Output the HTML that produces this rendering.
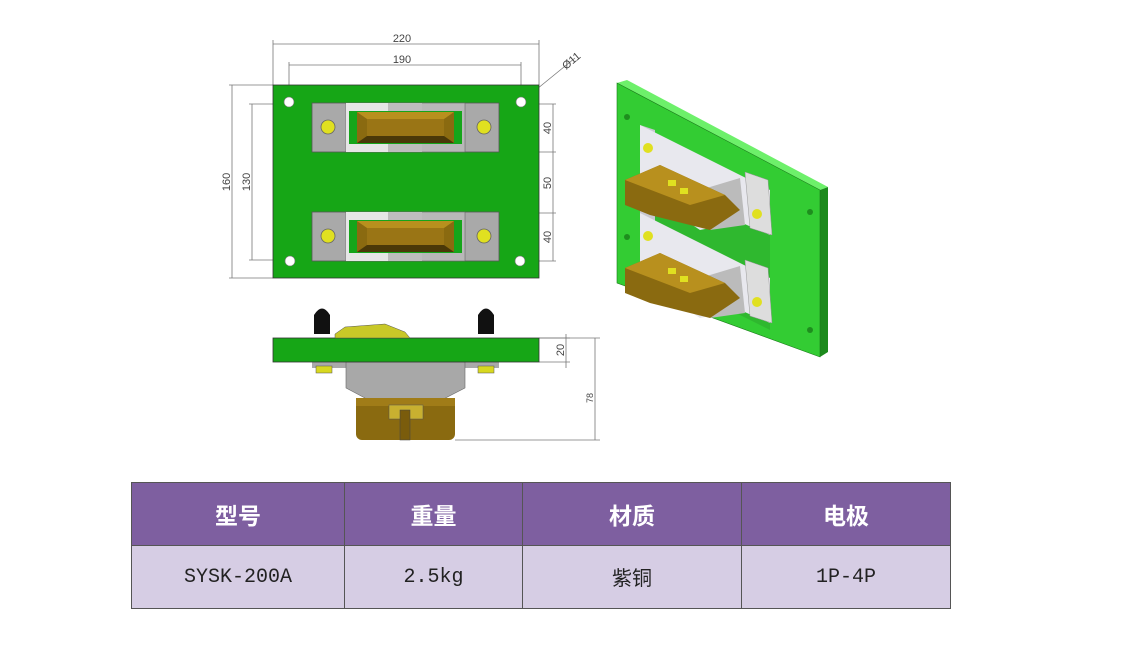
<!DOCTYPE html>
<html><head><meta charset="utf-8"><style>
html,body{margin:0;padding:0;background:#fff;}
body{width:1123px;height:647px;position:relative;overflow:hidden;font-family:"Liberation Sans","Noto Sans CJK SC",sans-serif;}
svg{position:absolute;left:0;top:0;}
table{position:absolute;left:131px;top:482px;border-collapse:collapse;width:820px;}
td{border:1px solid #555;text-align:center;height:62px;padding:0;}
tr.h td{background:#7e5fa0;color:#fff;font-weight:bold;font-size:23px;}
tr.r td{background:#d6cde4;color:#222;font-size:20px;font-family:"Liberation Mono","Noto Sans CJK SC",monospace;}
</style></head><body>
<svg width="1123" height="647" viewBox="0 0 1123 647" font-family="Liberation Sans, sans-serif">
<defs>
<g id="mod">
  <rect x="0" y="0" width="187" height="49" fill="#a9a9a9" stroke="#555" stroke-width="0.8"/>
  <rect x="34" y="0" width="119" height="49" fill="#b8b8b8" stroke="#666" stroke-width="0.6"/>
  <rect x="34" y="0" width="42" height="49" fill="#e6e6e6"/>
  <rect x="76" y="0" width="34" height="49" fill="#bdbdbd"/>
  <rect x="37" y="8" width="113" height="33" fill="#15a51a"/>
  <rect x="45" y="9" width="97" height="31" fill="#8a6a10"/>
  <polygon points="45,9 142,9 132,16 55,16" fill="#b8901e"/>
  <polygon points="45,40 142,40 132,33 55,33" fill="#4a3808"/>
  <rect x="55" y="16" width="77" height="17" fill="#9a7515"/>
  <circle cx="16" cy="24" r="7" fill="#e0e020" stroke="#666" stroke-width="0.8"/>
  <circle cx="172" cy="24" r="7" fill="#e0e020" stroke="#666" stroke-width="0.8"/>
</g>
<g id="m3">
  <polygon points="640,125 700,155 740,175 770,190 770,235 740,222 700,230 655,200 640,195" fill="#e8e8ee"/>
  <polygon points="700,190 740,178 745,225 710,230" fill="#bbb"/>
  <polygon points="745,172 768,180 772,235 750,228" fill="#ddd" stroke="#999" stroke-width="0.5"/>
  <polygon points="625,180 660,165 725,195 740,210 710,230 650,215 625,205" fill="#8a6a10"/>
  <polygon points="625,180 660,165 725,195 690,205" fill="#b8901e"/>
  <rect x="668" y="180" width="8" height="6" fill="#e0e020"/>
  <rect x="680" y="188" width="8" height="6" fill="#e0e020"/>
  <circle cx="757" cy="214" r="5" fill="#e0e020"/>
  <circle cx="648" cy="148" r="5" fill="#e0e020"/>
</g>
</defs>
<g stroke="#777" stroke-width="0.8" fill="none">
  <line x1="273" y1="44" x2="539" y2="44"/><line x1="273" y1="40" x2="273" y2="85"/><line x1="539" y1="40" x2="539" y2="85"/>
  <line x1="289" y1="65" x2="521" y2="65"/><line x1="289" y1="62" x2="289" y2="100"/><line x1="521" y1="62" x2="521" y2="100"/>
  <line x1="232" y1="85" x2="232" y2="278"/><line x1="229" y1="85" x2="273" y2="85"/><line x1="229" y1="278" x2="273" y2="278"/>
  <line x1="252" y1="104" x2="252" y2="260"/><line x1="249" y1="104" x2="290" y2="104"/><line x1="249" y1="260" x2="290" y2="260"/>
  <line x1="553" y1="104" x2="553" y2="261"/>
  <line x1="499" y1="104" x2="556" y2="104"/><line x1="499" y1="152" x2="556" y2="152"/><line x1="499" y1="213" x2="556" y2="213"/><line x1="499" y1="261" x2="556" y2="261"/>
  <line x1="521" y1="102" x2="575" y2="58"/>
  <line x1="539" y1="338" x2="570" y2="338"/><line x1="539" y1="362" x2="570" y2="362"/><line x1="566" y1="334" x2="566" y2="368"/>
  <line x1="539" y1="338" x2="600" y2="338"/><line x1="455" y1="440" x2="600" y2="440"/><line x1="595" y1="338" x2="595" y2="440"/>
</g>
<g font-size="11" fill="#444">
  <text x="402" y="42" text-anchor="middle">220</text>
  <text x="402" y="63" text-anchor="middle">190</text>
  <text transform="translate(230,182) rotate(-90)" text-anchor="middle">160</text>
  <text transform="translate(250,182) rotate(-90)" text-anchor="middle">130</text>
  <text transform="translate(551,128) rotate(-90)" text-anchor="middle">40</text>
  <text transform="translate(551,183) rotate(-90)" text-anchor="middle">50</text>
  <text transform="translate(551,237) rotate(-90)" text-anchor="middle">40</text>
  <text transform="translate(566,70) rotate(-40)">Ø11</text>
  <text transform="translate(564,350) rotate(-90)" text-anchor="middle">20</text>
  <text transform="translate(593,398) rotate(-90)" text-anchor="middle" font-size="9">78</text>
</g>
<rect x="273" y="85" width="266" height="193" fill="#16a616" stroke="#333" stroke-width="0.8"/>
<g fill="#fff" stroke="#777" stroke-width="0.6">
  <circle cx="289" cy="102" r="5"/><circle cx="521" cy="102" r="5"/><circle cx="290" cy="261" r="5"/><circle cx="520" cy="261" r="5"/>
</g>
<use href="#mod" x="312" y="103"/>
<use href="#mod" x="312" y="212"/>
<rect x="312" y="362" width="187" height="6" fill="#aaa"/>
<polygon points="346,362 465,362 465,388 430,406 380,406 346,388" fill="#a8a8a8" stroke="#666" stroke-width="0.6"/>
<rect x="356" y="398" width="99" height="42" rx="6" fill="#8a6a10"/>
<rect x="356" y="398" width="99" height="8" fill="#a07c18"/>
<rect x="389" y="405" width="34" height="14" fill="#c8b030" stroke="#555" stroke-width="0.5"/>
<rect x="400" y="410" width="10" height="30" fill="#7a5c0c" stroke="#444" stroke-width="0.5"/>
<rect x="316" y="366" width="16" height="7" fill="#d8d820" stroke="#555" stroke-width="0.5"/>
<rect x="478" y="366" width="16" height="7" fill="#d8d820" stroke="#555" stroke-width="0.5"/>
<rect x="273" y="338" width="266" height="24" fill="#16a616" stroke="#333" stroke-width="0.8"/>
<polygon points="335,334 345,327 385,324 405,332 410,338 335,338" fill="#c8c828" stroke="#555" stroke-width="0.5"/>
<path d="M314,334 L314,315 Q322,302 330,315 L330,334 Z" fill="#111"/>
<path d="M478,334 L478,315 Q486,302 494,315 L494,334 Z" fill="#111"/>
<polygon points="617,83 627,80 828,187 820,190" fill="#6df06a"/>
<polygon points="820,190 828,187 828,352 820,357" fill="#1c8a1c"/>
<polygon points="617,83 820,190 820,357 617,283" fill="#33cc33" stroke="#1a7a1a" stroke-width="0.6"/>
<polygon points="640,125 770,190 770,330 640,265" fill="#2fb82f"/>
<polygon points="640,125 655,130 655,275 640,265" fill="#c8c8d0"/>
<use href="#m3"/>
<use href="#m3" y="88"/>
<g fill="#1e8e1e"><circle cx="627" cy="117" r="3"/><circle cx="627" cy="237" r="3"/><circle cx="810" cy="212" r="3"/><circle cx="810" cy="330" r="3"/></g>
</svg>
<table>
<tr class="h"><td style="width:212px">型号</td><td style="width:177px">重量</td><td style="width:218px">材质</td><td>电极</td></tr>
<tr class="r"><td>SYSK-200A</td><td>2.5kg</td><td>紫铜</td><td>1P-4P</td></tr>
</table>
</body></html>
